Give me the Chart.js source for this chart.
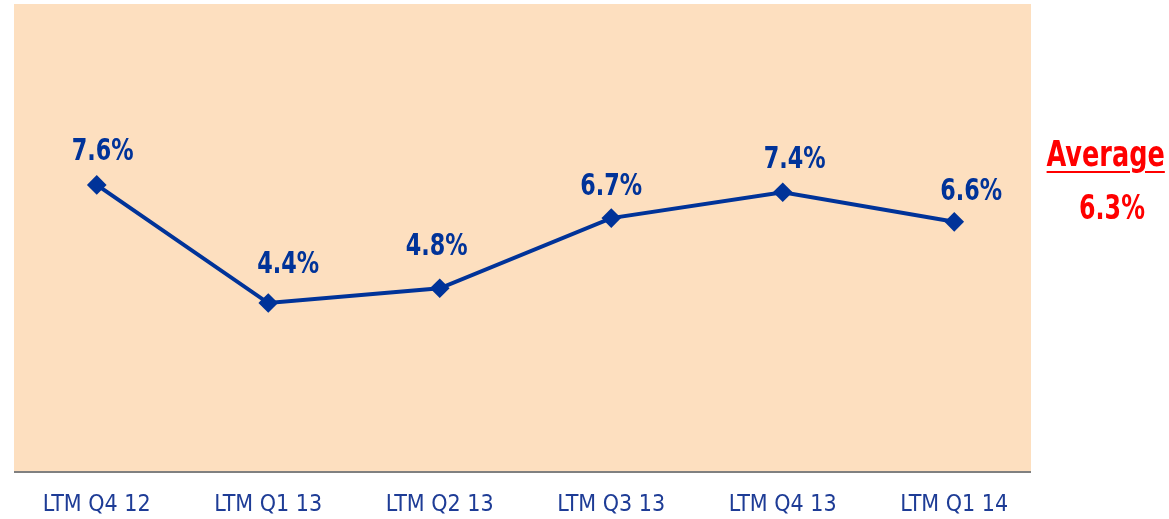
<!DOCTYPE html>
<html>
<head>
<meta charset="utf-8">
<script src="https://cdn.jsdelivr.net/npm/chart.js@4.4.1/dist/chart.umd.min.js"></script>
<style>
  body { margin: 0; background: #fff; }
  #wrap { position: relative; width: 1169px; height: 519px; }
  .avg { position: absolute; color: #ff0000; font-family: "Liberation Sans Narrow", "Arial Narrow", "DejaVu Sans Condensed", sans-serif; font-weight: bold; text-align: center; transform: scaleX(0.8); }
  #avgTitle { left: 1040px; width: 126px; top: 134px; font-size: 35.5px; line-height: 40px; text-decoration: underline; text-decoration-thickness: 2px; text-underline-offset: 5px; }
  #avgValue { left: 1050px; width: 124px; top: 189px; font-size: 33px; line-height: 38px; }
</style>
</head>
<body>
<div id="wrap">
  <canvas id="MiGrafica" width="1169" height="519"></canvas>
  <div class="avg" id="avgTitle" style="left:1034px">Average</div>
  <div class="avg" id="avgValue"></div>
</div>
<script>
const categories = ['LTM Q4 12', 'LTM Q1 13', 'LTM Q2 13', 'LTM Q3 13', 'LTM Q4 13', 'LTM Q1 14'];
const growth = [7.6, 4.4, 4.8, 6.7, 7.4, 6.6];
const average = 6.3;

// hand placed label nudges (x, y) like in the original
const labelNudge = [[6, -33], [20, -38], [-3, -41], [0, -31], [12, -32], [17, -30]];

const lineColor = '#003399';
const narrow = '"Liberation Sans Narrow", "Arial Narrow", "DejaVu Sans Condensed", sans-serif';

document.getElementById('avgValue').textContent = average.toFixed(1) + '%';

// peach plot box and grey base line, slightly inside the category band
const plotBackground = {
    id: 'plotBackground',
    beforeDraw(chart) {
        const { ctx, chartArea } = chart;
        const left = chartArea.left + 3;
        const right = chartArea.right - 9;
        ctx.save();
        ctx.fillStyle = '#fddfbf';
        ctx.fillRect(left, chartArea.top, right - left, chartArea.bottom - chartArea.top);
        ctx.strokeStyle = '#808080';
        ctx.lineWidth = 2;
        ctx.beginPath();
        ctx.moveTo(left, chartArea.bottom + 1);
        ctx.lineTo(right, chartArea.bottom + 1);
        ctx.stroke();
        ctx.restore();
    }
};

const valueLabels = {
    id: 'valueLabels',
    afterDatasetsDraw(chart) {
        const { ctx } = chart;
        const meta = chart.getDatasetMeta(0);
        ctx.save();
        ctx.font = 'bold 31px ' + narrow;
        ctx.fillStyle = lineColor;
        ctx.textAlign = 'center';
        ctx.textBaseline = 'middle';
        meta.data.forEach((pt, i) => {
            const n = labelNudge[i];
            ctx.save();
            ctx.translate(pt.x + n[0], pt.y + n[1]);
            ctx.scale(0.8, 1);
            ctx.fillText(growth[i].toFixed(1) + '%', 0, 0);
            ctx.restore();
        });
        ctx.restore();
    }
};

let ctx = document.getElementById('MiGrafica').getContext('2d');
new Chart(ctx, {
    type: 'line',
    data: {
        labels: categories,
        datasets: [{
            data: growth,
            borderColor: lineColor,
            backgroundColor: lineColor,
            borderWidth: 4,
            pointStyle: 'rectRot',
            pointRadius: 7,
            pointHoverRadius: 7,
            tension: 0
        }]
    },
    options: {
        responsive: false,
        animation: false,
        layout: { autoPadding: false, padding: { left: 11, right: 129, top: 4, bottom: 0 } },
        plugins: {
            legend: { display: false },
            tooltip: { enabled: false }
        },
        scales: {
            x: {
                offset: true,
                grid: { display: false, drawTicks: false },
                border: { display: false },
                ticks: {
                    padding: 20,
                    color: '#1e3c96',
                    font: { family: narrow, size: 23 }
                },
                afterFit(scale) {
                    scale.height = 48;
                }
            },
            y: {
                display: false,
                min: -0.15,
                max: 12.5
            }
        }
    },
    plugins: [plotBackground, valueLabels]
});
</script>
</body>
</html>
